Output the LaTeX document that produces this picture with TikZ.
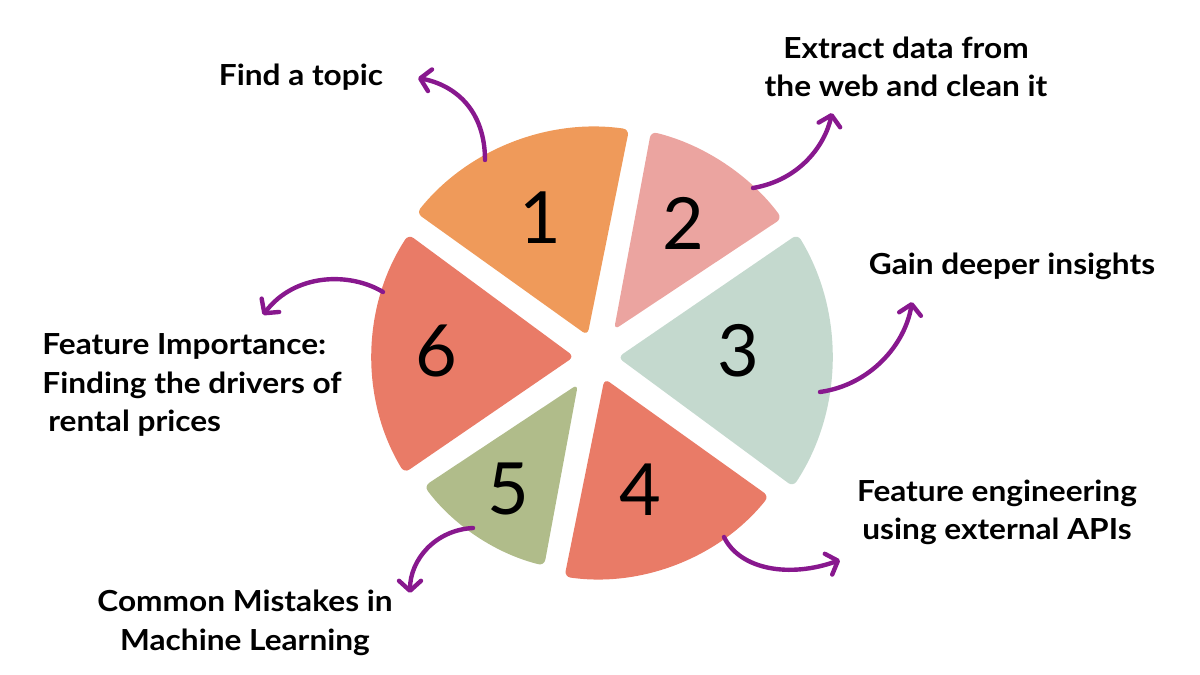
\documentclass[tikz,border=0pt]{standalone}
\usepackage{fontspec}
\setmainfont{Lato}
\usepackage{xcolor}
\definecolor{sliceorange}{RGB}{239,154,90}
\definecolor{slicepink}{RGB}{235,164,160}
\definecolor{slicemint}{RGB}{196,217,206}
\definecolor{slicesalmon}{RGB}{233,123,103}
\definecolor{sliceolive}{RGB}{176,188,138}
\definecolor{arrowpurple}{RGB}{136,24,142}
\usetikzlibrary{arrows.meta}

\begin{document}
\begin{tikzpicture}[
    x=0.5pt, y=0.5pt,
    steplabel/.style={font=\bfseries\fontsize{14.5}{19.3}\selectfont\addfontfeature{FakeStretch=1.09},
        align=center, inner sep=0pt},
    digit/.style={font=\fontsize{36}{36}\selectfont, inner sep=0pt},
    pointer/.style={draw=arrowpurple, line width=2.2pt, line cap=round,
        -{Straight Barb[length=5pt, width=11pt, round]}}
]
\useasboundingbox (0,0) rectangle (1200,675);
\coordinate (C) at (596,318);

% ==================== SLICES ====================
\foreach \k/\from/\to/\rad/\col in {
    1/79/144/230/sliceorange,
    2/34/79/232/slicepink,
    3/-36/34/236/slicemint,
    4/-101/-36/222/slicesalmon,
    5/-146/-101/215/sliceolive,
    6/144/214/224/slicesalmon} {
    \pgfmathsetmacro\mid{(\from+\to)/2}
    \pgfmathsetmacro\tip{12.5/sin((\to-\from)/2)}
    \pgfmathsetmacro\del{asin(11/\rad)}
    \fill[fill=\col, rounded corners=3pt, shift={(C)}]
        (\mid:\tip) -- ({\from+\del}:\rad)
        arc[start angle={\from+\del}, end angle={\to-\del}, radius=\rad] -- cycle;
}

% ==================== NUMBERS ====================
\node[digit] (n1) at (540,457) {1};
\node[digit] (n2) at (683,452) {2};
\node[digit] (n3) at (738,324) {3};
\node[digit] (n4) at (640,185) {4};
\node[digit] (n5) at (508,186) {5};
\node[digit] (n6) at (436,324) {6};

% ==================== LABELS ====================
\node[steplabel, anchor=base] (t1) at (301,589) {Find a topic};
\node[steplabel, anchor=base] (t2) at (906,578) {Extract data from\\the web and clean it};
\node[steplabel, anchor=base] (t3) at (1012,400) {Gain deeper insights};
\node[steplabel, anchor=base] (t4) at (997,135) {Feature engineering\\using external APIs};
\node[steplabel, anchor=base] (t5) at (245,25) {Common Mistakes in\\Machine Learning};
\node[steplabel, anchor=base west, align=left] (t6) at (42,243) {Feature Importance:\\Finding the drivers of\\\hspace{3pt}rental prices};

% ==================== ARROWS ====================
\coordinate (s1) at (485,515); \coordinate (e1) at (418,597);
\coordinate (s2) at (753,487); \coordinate (e2) at (832,562);
\coordinate (s3) at (820,283); \coordinate (e3) at (912,373);
\coordinate (s4) at (724,138); \coordinate (e4) at (840,115);
\coordinate (s5) at (473,147); \coordinate (e5) at (410,82);
\coordinate (s6) at (383,383); \coordinate (e6) at (263,360);

\draw[pointer] (s1) .. controls +(0,50) and +(37,-7) .. (e1);
\draw[pointer] (s2) .. controls +(47,8) and +(-7,-32) .. (e2);
\draw[pointer] (s3) .. controls +(50,7) and +(-7,-43) .. (e3);
\draw[pointer] (s4) .. controls +(16,-33) and +(-50,-18) .. (e4);
\draw[pointer] (s5) .. controls +(-38,-2) and +(0,33) .. (e5);
\draw[pointer] (s6) .. controls +(-33,20) and +(32,42) .. (e6);

\end{tikzpicture}
\end{document}
